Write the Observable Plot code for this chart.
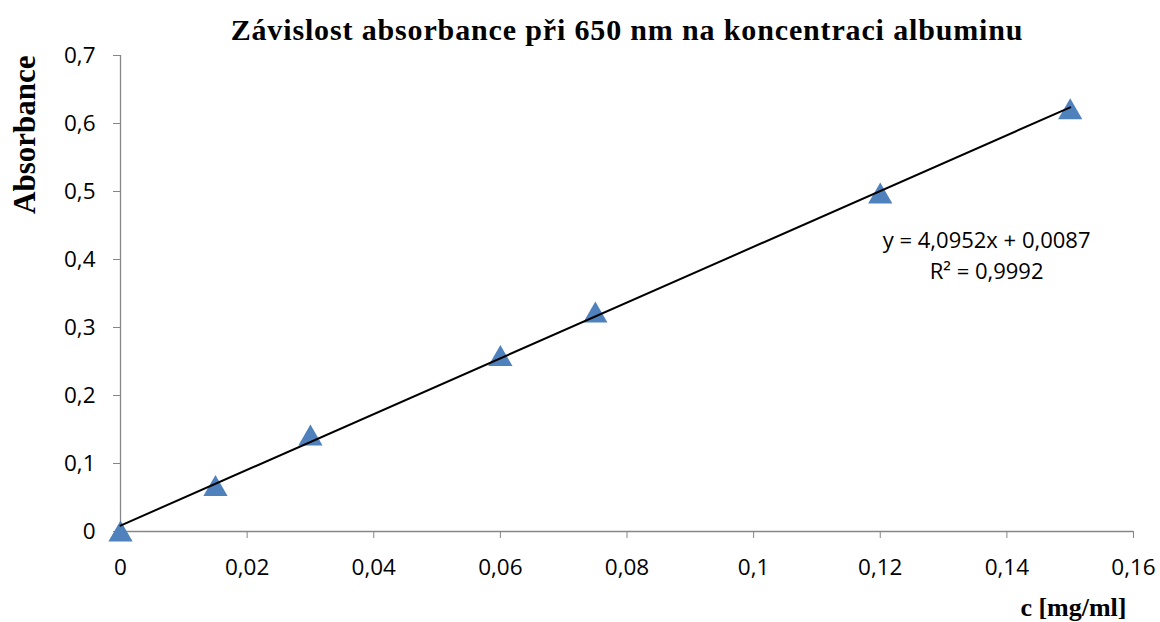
<!DOCTYPE html>
<html>
<head>
<meta charset="utf-8">
<script src="https://cdn.jsdelivr.net/npm/d3@7"></script>
<script src="https://cdn.jsdelivr.net/npm/@observablehq/plot@0.6"></script>
<style>
  html, body { margin: 0; padding: 0; background: #fff; }
  #chart svg { display: block; }
</style>
</head>
<body>
<div id="chart"></div>
<script>
// ---- data ----
const title = "Závislost absorbance při 650 nm na koncentraci albuminu";
const xLabel = "c [mg/ml]";
const yLabel = "Absorbance";
const concentration = [0, 0.015, 0.03, 0.06, 0.075, 0.12, 0.15];
const absorbance = [0, 0.067, 0.141, 0.258, 0.322, 0.497, 0.621];
const xTicks = [0, 0.02, 0.04, 0.06, 0.08, 0.1, 0.12, 0.14, 0.16];
const yTicks = [0, 0.1, 0.2, 0.3, 0.4, 0.5, 0.6, 0.7];
const equationText = ["y = 4,0952x + 0,0087", "R² = 0,9992"];
const equationAt = [0.1368, 0.408]; // annotation position in data units

const points = concentration.map((c, i) => ({c, a: absorbance[i]}));
const fmt = d => String(d).replace(".", ",");
const sans = "'Open Sans', sans-serif";
const serif = "'Liberation Serif', 'Times New Roman', serif";
const axisGray = "#868686";

const chart = Plot.plot({
  width: 1160,
  height: 622,
  marginLeft: 120,
  marginRight: 27,
  marginTop: 55,
  marginBottom: 91,
  style: {fontFamily: sans, background: "#fff"},
  x: {domain: [0, 0.16]},
  y: {domain: [0, 0.7]},
  marks: [
    Plot.axisX({ticks: xTicks, tickFormat: fmt, tickSize: 7, tickPadding: 21, fontSize: 22.5, stroke: axisGray, fill: "black", label: null}),
    Plot.axisY({ticks: yTicks, tickFormat: fmt, tickSize: 7, tickPadding: 18, fontSize: 22.5, stroke: axisGray, fill: "black", label: null}),
    Plot.ruleX([0], {stroke: axisGray, strokeWidth: 1.3}),
    Plot.ruleY([0], {stroke: axisGray, strokeWidth: 1.3}),
    Plot.dot(points, {x: "c", y: "a", symbol: "triangle", r: 9, fill: "#4F81BD", stroke: "none", dy: 3}),
    Plot.linearRegressionY(points, {x: "c", y: "a", stroke: "black", strokeWidth: 2, ci: 0}),
    Plot.text([equationText.join("\n")], {x: () => equationAt[0], y: () => equationAt[1], fontSize: 22, lineHeight: 1.41, textAnchor: "middle", lineAnchor: "middle", fill: "black"}),
    Plot.text([title], {frameAnchor: "top", dy: -25, fontSize: 30, fontWeight: "bold", fontFamily: serif, lineAnchor: "middle", fill: "black"}),
    Plot.text([yLabel], {frameAnchor: "top-left", dx: -95, dy: 0, rotate: -90, textAnchor: "end", lineAnchor: "middle", fontSize: 31, fontWeight: "bold", fontFamily: serif, fill: "black"}),
    Plot.text([xLabel], {frameAnchor: "bottom-right", dx: -7, dy: 76, textAnchor: "end", lineAnchor: "middle", fontSize: 26, fontWeight: "bold", fontFamily: serif, fill: "black"})
  ]
});
d3.select(chart).selectAll("text").filter(function() { return this.textContent === title; })
  .style("letter-spacing", "0.85px");
document.getElementById("chart").appendChild(chart);
</script>
</body>
</html>
